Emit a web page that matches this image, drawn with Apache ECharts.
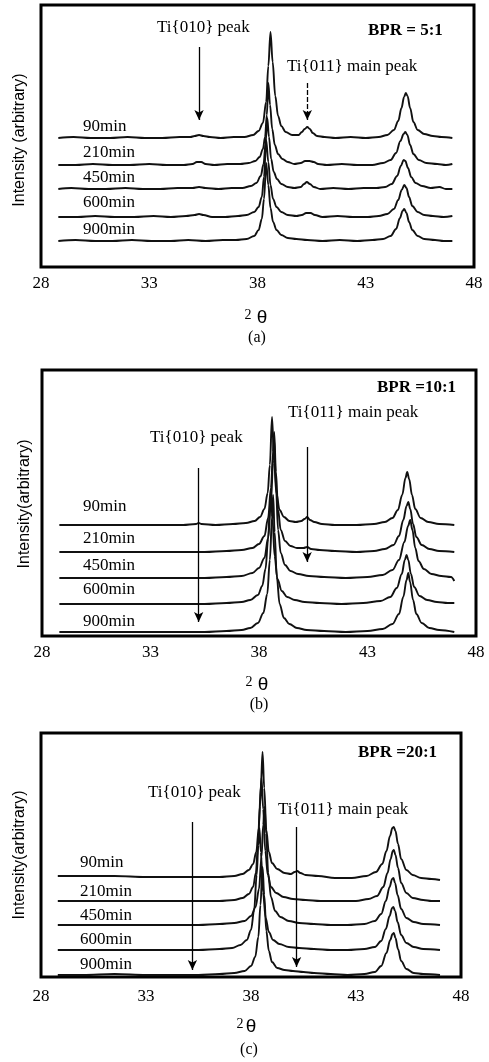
<!DOCTYPE html>
<html>
<head>
<meta charset="utf-8">
<script src="https://cdn.jsdelivr.net/npm/echarts@6/dist/echarts.min.js"></script>
<style>
html,body{margin:0;padding:0;background:#fff;}
#chart{width:489px;height:1062px;}
</style>
</head>
<body>
<div id="chart"></div>
<script>
// ---------- DATA ----------
const xTicks = [28, 33, 38, 43, 48];
const traceNames = ['90min', '210min', '450min', '600min', '900min'];
const bprLabels = ['BPR = 5:1', 'BPR =10:1', 'BPR =20:1'];
const panelLetters = ['(a)', '(b)', '(c)'];

// vertical offsets of each trace (arbitrary intensity units)
const offsetsA = [129, 102, 78, 50, 26];
const offsetsB = [111, 84, 58, 32, 4];
const offsetsC = [101, 76, 52, 27, 2];

// Panel (a) BPR 5:1 — [2θ, intensity above own baseline]
const a90 = [[28.8,0],[29.5,1],[30.3,0],[31.2,0],[32.0,1],[32.8,0],[33.6,0],[34.4,1],[34.9,1],[35.1,2],[35.3,3],[35.5,2],[35.8,1],[36.3,0],[36.9,1],[37.4,1],[37.8,3],[38.05,7],[38.25,15],[38.4,36],[38.5,72],[38.6,106],[38.7,76],[38.82,42],[38.95,22],[39.1,12],[39.3,6],[39.6,3],[39.9,3],[40.05,6],[40.18,9],[40.3,11],[40.42,9],[40.55,5],[40.75,2],[41.1,1],[41.6,0],[42.3,1],[43.0,0],[43.6,1],[44.0,3],[44.3,8],[44.5,17],[44.65,30],[44.77,41],[44.85,45],[44.93,42],[45.05,30],[45.2,16],[45.4,8],[45.7,4],[46.1,2],[46.5,1],[47.0,0]];
const a210 = [[28.8,0],[29.6,0],[30.4,1],[31.3,0],[32.1,0],[33.0,1],[33.8,0],[34.6,0],[35.0,1],[35.2,3],[35.4,3],[35.6,1],[36.0,0],[36.6,1],[37.2,1],[37.6,2],[37.9,4],[38.1,8],[38.25,16],[38.35,28],[38.43,50],[38.5,82],[38.58,60],[38.68,36],[38.8,20],[38.95,11],[39.15,6],[39.4,3],[39.7,1],[40.0,2],[40.2,4],[40.4,4],[40.6,3],[40.8,1],[41.2,0],[41.9,1],[42.6,0],[43.3,0],[43.8,2],[44.15,5],[44.4,12],[44.6,24],[44.75,31],[44.83,33],[44.92,30],[45.05,20],[45.2,11],[45.45,5],[45.8,2],[46.3,1],[46.7,0],[47.0,1]];
const a450 = [[28.8,0],[29.4,1],[30.2,0],[31.0,0],[31.9,1],[32.7,0],[33.5,0],[34.3,1],[35.0,1],[35.3,2],[35.6,1],[36.2,0],[36.8,1],[37.3,1],[37.7,3],[37.95,6],[38.15,13],[38.28,25],[38.37,45],[38.45,71],[38.53,52],[38.63,30],[38.75,17],[38.9,10],[39.1,5],[39.4,2],[39.7,1],[40.0,2],[40.15,5],[40.28,7],[40.42,5],[40.6,2],[40.9,0],[41.5,1],[42.2,0],[42.9,1],[43.5,1],[43.9,2],[44.2,5],[44.45,13],[44.62,23],[44.75,29],[44.83,28],[44.95,21],[45.1,12],[45.3,6],[45.6,3],[46.0,1],[46.4,2],[46.7,0],[47.0,0]];
const a600 = [[28.8,0],[29.7,0],[30.5,1],[31.4,0],[32.3,0],[33.2,1],[34.0,0],[34.7,1],[35.1,2],[35.3,3],[35.5,2],[35.9,0],[36.5,0],[37.1,1],[37.5,2],[37.85,5],[38.05,10],[38.2,20],[38.3,40],[38.4,77],[38.5,55],[38.6,32],[38.72,18],[38.88,10],[39.1,5],[39.4,2],[39.8,1],[40.05,2],[40.25,4],[40.45,4],[40.65,2],[41.0,0],[41.7,1],[42.4,0],[43.1,0],[43.6,1],[44.0,3],[44.3,8],[44.5,17],[44.66,27],[44.78,32],[44.88,29],[45.0,20],[45.15,11],[45.4,5],[45.7,2],[46.1,1],[46.6,0],[47.0,1]];
const a900 = [[28.8,0],[29.6,1],[30.5,0],[31.3,0],[32.2,1],[33.1,0],[34.0,0],[34.8,1],[35.6,0],[36.4,1],[37.0,1],[37.5,2],[37.85,5],[38.05,11],[38.2,22],[38.3,42],[38.4,78],[38.5,56],[38.6,33],[38.72,19],[38.88,11],[39.1,6],[39.4,3],[39.8,2],[40.3,1],[41.0,0],[41.8,1],[42.6,0],[43.3,1],[43.8,2],[44.15,5],[44.4,12],[44.58,23],[44.7,30],[44.78,32],[44.88,28],[45.0,19],[45.15,11],[45.4,5],[45.7,2],[46.2,1],[46.6,0],[47.0,0]];

// Panel (b) BPR 10:1
const b90 = [[28.8,0],[30.0,0],[31.5,0],[33.0,0],[34.5,0],[35.1,1],[35.22,2],[35.35,1],[36.0,0],[36.8,1],[37.4,2],[37.8,4],[38.05,8],[38.25,16],[38.4,32],[38.5,60],[38.6,108],[38.7,62],[38.8,32],[38.95,15],[39.15,8],[39.4,4],[39.7,3],[39.95,4],[40.1,6],[40.22,8],[40.35,5],[40.55,3],[40.9,1],[41.5,0],[42.5,0],[43.3,1],[43.8,3],[44.15,7],[44.4,15],[44.6,30],[44.75,47],[44.83,53],[44.92,46],[45.05,30],[45.2,16],[45.45,7],[45.8,3],[46.3,1],[47.0,0]];
const b210 = [[28.8,0],[30.0,0],[31.5,0],[33.0,0],[34.5,0],[35.5,0],[36.5,1],[37.2,2],[37.7,4],[38.0,8],[38.25,16],[38.42,34],[38.55,64],[38.65,100],[38.7,120],[38.78,80],[38.88,42],[39.0,22],[39.2,11],[39.45,6],[39.75,4],[40.05,4],[40.22,5],[40.4,3],[40.8,2],[41.5,1],[42.5,0],[43.3,1],[43.8,3],[44.2,7],[44.45,16],[44.65,32],[44.8,46],[44.88,50],[44.97,43],[45.1,28],[45.25,15],[45.5,7],[45.85,3],[46.3,1],[47.0,0]];
const b450 = [[28.8,0],[30.0,0],[31.5,0],[33.0,0],[34.5,0],[35.5,0],[36.5,1],[37.2,2],[37.7,5],[38.0,10],[38.25,20],[38.42,40],[38.55,75],[38.65,118],[38.7,138],[38.78,92],[38.88,48],[39.0,25],[39.2,13],[39.45,7],[39.8,4],[40.3,2],[41.0,1],[42.0,0],[43.0,1],[43.7,3],[44.15,8],[44.45,18],[44.7,36],[44.87,52],[44.97,58],[45.07,48],[45.2,30],[45.35,17],[45.6,9],[45.95,4],[46.4,2],[46.85,1],[47.0,-3]];
const b600 = [[28.8,0],[30.0,0],[31.5,0],[33.0,0],[34.5,0],[35.5,0],[36.5,1],[37.2,2],[37.6,4],[37.95,9],[38.15,18],[38.3,35],[38.42,65],[38.5,95],[38.55,112],[38.62,85],[38.72,48],[38.85,25],[39.05,13],[39.3,7],[39.65,4],[40.1,2],[40.8,1],[41.8,0],[42.8,1],[43.6,3],[44.05,7],[44.35,16],[44.58,30],[44.72,44],[44.8,49],[44.88,44],[45.0,30],[45.15,17],[45.4,8],[45.75,4],[46.2,2],[46.7,1],[47.0,1]];
const b900 = [[28.8,0],[30.0,0],[31.5,0],[33.0,0],[34.5,0],[35.5,0],[36.5,1],[37.2,2],[37.6,4],[37.95,9],[38.2,19],[38.38,38],[38.5,72],[38.6,115],[38.65,137],[38.72,100],[38.82,55],[38.95,28],[39.15,14],[39.4,8],[39.75,4],[40.2,2],[41.0,1],[42.0,0],[43.0,1],[43.7,3],[44.15,8],[44.45,18],[44.65,35],[44.8,52],[44.88,59],[44.96,50],[45.1,32],[45.25,18],[45.5,9],[45.85,4],[46.3,2],[47.0,0]];

// Panel (c) BPR 20:1
const c90 = [[28.8,0],[30.0,0],[31.5,0],[33.0,-1],[34.5,-1],[35.5,-1],[36.5,-1],[37.2,0],[37.6,2],[37.9,6],[38.1,12],[38.25,24],[38.37,48],[38.47,90],[38.55,124],[38.63,88],[38.73,46],[38.85,24],[39.0,13],[39.25,7],[39.6,3],[39.9,2],[40.08,4],[40.2,5],[40.35,3],[40.6,1],[41.2,0],[42.0,-2],[42.8,-2],[43.5,0],[43.95,4],[44.25,12],[44.45,25],[44.62,40],[44.73,48],[44.8,49],[44.88,45],[45.0,32],[45.15,17],[45.4,6],[45.7,1],[46.1,-2],[46.6,-3],[47.0,-4]];
const c210 = [[28.8,0],[30.0,0],[31.5,0],[33.0,0],[34.5,0],[35.5,0],[36.5,0],[37.2,1],[37.6,3],[37.9,7],[38.1,14],[38.23,28],[38.33,55],[38.42,95],[38.5,123],[38.58,92],[38.68,50],[38.8,26],[38.95,14],[39.2,8],[39.55,4],[40.0,2],[40.6,1],[41.3,0],[42.2,0],[43.0,0],[43.6,2],[44.0,5],[44.3,14],[44.5,28],[44.65,42],[44.75,50],[44.8,51],[44.88,46],[45.0,33],[45.15,18],[45.4,8],[45.7,3],[46.2,1],[46.6,0],[47.0,0]];
const c450 = [[28.8,0],[30.0,0],[31.5,0],[33.0,0],[34.5,0],[35.5,0],[36.5,1],[37.2,2],[37.7,4],[38.0,9],[38.22,18],[38.38,36],[38.5,68],[38.58,100],[38.65,118],[38.72,92],[38.82,52],[38.95,28],[39.15,14],[39.4,8],[39.8,4],[40.3,2],[41.0,1],[41.8,0],[42.6,0],[43.4,1],[43.9,4],[44.2,11],[44.42,24],[44.6,38],[44.72,46],[44.78,47],[44.86,42],[44.98,30],[45.15,16],[45.4,7],[45.75,3],[46.2,1],[47.0,0]];
const c600 = [[28.8,0],[30.0,0],[31.5,0],[33.0,0],[34.5,0],[35.5,0],[36.5,1],[37.1,2],[37.5,5],[37.8,10],[38.0,20],[38.15,40],[38.27,75],[38.35,105],[38.4,122],[38.47,98],[38.57,58],[38.7,32],[38.85,18],[39.05,10],[39.35,6],[39.8,3],[40.3,2],[41.0,1],[41.8,0],[42.6,0],[43.4,1],[43.9,3],[44.2,9],[44.42,21],[44.6,34],[44.72,42],[44.78,43],[44.86,39],[44.98,28],[45.15,15],[45.4,7],[45.75,3],[46.2,1],[47.0,0]];
const c900 = [[28.8,0],[30.0,0],[31.5,1],[33.0,0],[34.5,0],[35.5,0],[36.5,1],[37.2,2],[37.7,4],[38.0,9],[38.2,18],[38.35,38],[38.45,70],[38.55,108],[38.63,80],[38.73,44],[38.85,24],[39.0,13],[39.25,7],[39.6,5],[40.0,4],[40.5,3],[41.0,2],[41.8,1],[42.6,0],[43.4,1],[43.9,3],[44.2,9],[44.45,22],[44.63,35],[44.74,41],[44.8,42],[44.88,37],[45.0,26],[45.15,14],[45.4,6],[45.75,2],[46.2,1],[47.0,0]];

// arrows: [2θ, from intensity, to intensity]
const arrowsA = [[35.3, 220, 147], [40.3, 184, 147]];
const arrowsB = [[35.22, 168, 14], [40.22, 189, 74]];
const arrowsC = [[35.21, 155, 7], [40.17, 150, 10]];

// ---------- LAYOUT ----------
const panels = [
  { traces: [a90, a210, a450, a600, a900], offsets: offsetsA, arrows: arrowsA, dashed011: true,
    grid: { left: 41, top: 5, width: 433, height: 262 }, labelMargin: 8,
    peak010: [157, 28], peak011: [287, 67], bpr: [368, 31],
    traceLabelX: 83, traceLabelY: [127, 153, 178, 203, 230],
    yName: 'Intensity (arbitrary)', yNamePos: [20, 140],
    two: [248, 315], theta: [262, 318], letter: [257, 338] },
  { traces: [b90, b210, b450, b600, b900], offsets: offsetsB, arrows: arrowsB, dashed011: false,
    grid: { left: 42, top: 370, width: 434, height: 266 }, labelMargin: 8,
    peak010: [150, 438], peak011: [288, 413], bpr: [377, 388],
    traceLabelX: 83, traceLabelY: [507, 539, 566, 590, 622],
    yName: 'Intensity(arbitrary)', yNamePos: [25, 504],
    two: [249, 682], theta: [263, 685], letter: [259, 705] },
  { traces: [c90, c210, c450, c600, c900], offsets: offsetsC, arrows: arrowsC, dashed011: false,
    grid: { left: 41, top: 733, width: 420, height: 244 }, labelMargin: 11,
    peak010: [148, 793], peak011: [278, 810], bpr: [358, 753],
    traceLabelX: 80, traceLabelY: [863, 892, 916, 940, 965],
    yName: 'Intensity(arbitrary)', yNamePos: [20, 855],
    two: [240, 1024], theta: [251, 1027], letter: [249, 1050] }
];

const SERIF = '"Liberation Serif", "Times New Roman", serif';
const SANS = '"Liberation Sans", Arial, sans-serif';

const grids = [], xAxes = [], yAxes = [], series = [], graphics = [];

function txt(x, y, text, font, align, rot) {
  const g = { type: 'text', x: x, y: y, silent: true,
    style: { text: text, font: font, fill: '#000', align: align || 'left', verticalAlign: 'middle',
             textAlign: align || 'left', textVerticalAlign: 'middle' } };
  if (rot) g.rotation = rot;
  return g;
}

panels.forEach((p, pi) => {
  grids.push(Object.assign({ show: true, borderColor: '#000', borderWidth: 3, backgroundColor: 'transparent' }, p.grid));
  xAxes.push({
    type: 'value', gridIndex: pi, min: xTicks[0], max: xTicks[xTicks.length - 1], interval: xTicks[1] - xTicks[0],
    axisLine: { show: false }, axisTick: { show: false }, splitLine: { show: false },
    axisLabel: { color: '#000', fontSize: 17, fontFamily: SERIF, margin: p.labelMargin }
  });
  yAxes.push({
    type: 'value', gridIndex: pi, min: 0, max: p.grid.height,
    axisLine: { show: false }, axisTick: { show: false }, splitLine: { show: false }, axisLabel: { show: false }
  });
  p.traces.forEach((tr, ti) => {
    const off = p.offsets[ti];
    const s = {
      type: 'line', name: traceNames[ti], xAxisIndex: pi, yAxisIndex: pi,
      data: tr.map(d => [d[0], d[1] + off]),
      showSymbol: false, symbol: 'none', smooth: 0.35, smoothMonotone: 'x',
      lineStyle: { color: '#111', width: 1.9 }, silent: true, z: 3
    };
    if (ti === 0) {
      s.markLine = {
        silent: true, symbol: ['none', 'arrow'], symbolSize: [7, 10],
        label: { show: false },
        lineStyle: { color: '#000', width: 1.3, type: 'solid' },
        data: p.arrows.map((a, ai) => [
          { coord: [a[0], a[1]], lineStyle: (ai === 1 && p.dashed011) ? { type: [5, 2], color: '#000', width: 1.3 } : { type: 'solid', color: '#000', width: 1.3 } },
          { coord: [a[0], a[2]] }
        ])
      };
    }
    series.push(s);
  });
  // texts
  graphics.push(txt(p.peak010[0], p.peak010[1], 'Ti{010} peak', '17px ' + SERIF));
  graphics.push(txt(p.peak011[0], p.peak011[1], 'Ti{011} main peak', '17px ' + SERIF));
  graphics.push(txt(p.bpr[0], p.bpr[1], bprLabels[pi], 'bold 17px ' + SERIF));
  traceNames.forEach((n, ti) => graphics.push(txt(p.traceLabelX, p.traceLabelY[ti], n, '17px ' + SERIF)));
  graphics.push(txt(p.yNamePos[0], p.yNamePos[1], p.yName, '16px ' + SANS, 'center', Math.PI / 2));
  graphics.push(txt(p.two[0], p.two[1], '2', '14px ' + SERIF, 'center'));
  graphics.push(txt(p.theta[0], p.theta[1], 'θ', '19px ' + SANS, 'center'));
  graphics.push(txt(p.letter[0], p.letter[1], panelLetters[pi], '16px ' + SERIF, 'center'));
});

const chart = echarts.init(document.getElementById('chart'), null, { renderer: 'canvas' });
chart.setOption({
  animation: false,
  backgroundColor: '#fff',
  grid: grids, xAxis: xAxes, yAxis: yAxes, series: series,
  graphic: { elements: graphics }
});
</script>
</body>
</html>
